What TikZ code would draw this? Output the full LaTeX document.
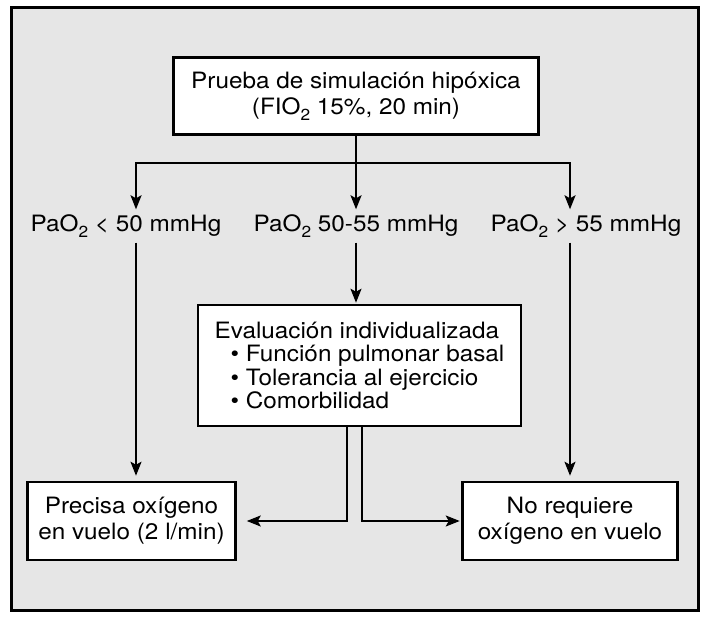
\documentclass[tikz,border=0pt]{standalone}
\usepackage{fontspec}
\setmainfont{TeX Gyre Heros}[FakeStretch=1.08]
\usetikzlibrary{arrows.meta}
\definecolor{bg}{HTML}{E6E6E6}
\newcommand\lowtwo{\raisebox{-0.28em}{\fontsize{16}{16}\selectfont 2}}
\begin{document}
\begin{tikzpicture}[x=1pt,y=-1pt,
  txt/.style={font=\fontsize{22.5}{26}\selectfont},
  box/.style={txt, draw, line width=2.5pt, fill=white, inner sep=0pt, align=center},
  lab/.style={txt, inner sep=0pt, minimum height=33pt},
  conn/.style={line width=2pt},
  arr/.style={conn, -{Stealth[length=14pt,width=11pt,inset=3pt]}}]
\useasboundingbox (0,0) rectangle (706,617);
\draw[line width=3pt, fill=bg] (11.5,8) rectangle (698.5,610);
\node[box, minimum width=365pt, minimum height=77pt] (top) at (356,96)
  {Prueba de simulación hipóxica\\(FIO\lowtwo{} 15\%, 20 min)};
\node[lab] (l1) at (126,226) {PaO\lowtwo{} < 50 mmHg};
\node[lab] (l2) at (356,226) {PaO\lowtwo{} 50-55 mmHg};
\node[lab] (l3) at (586,226) {PaO\lowtwo{} > 55 mmHg};
\node[box, align=left, minimum width=323pt, minimum height=121pt, font=\fontsize{22.5}{23.5}\selectfont] (mid) at (359.5,365.5)
  {Evaluación individualizada\\\hspace*{16pt}• Función pulmonar basal\\\hspace*{16pt}• Tolerancia al ejercicio\\\hspace*{16pt}• Comorbilidad};
\node[box, minimum width=208pt, minimum height=78pt] (left) at (131.5,521)
  {Precisa oxígeno\\en vuelo (2 l/min)};
\node[box, minimum width=215pt, minimum height=78pt] (right) at (570,521)
  {No requiere\\oxígeno en vuelo};
\coordinate (j) at (356,163);
\coordinate (cL) at (136,163);
\coordinate (cR) at (570,163);
\draw[arr] (top.south) -- (l2.north);
\draw[arr] (j) -| (cL |- l1.north);
\draw[arr] (j) -| (cR |- l3.north);
\draw[arr, shorten >=5pt] (cL |- l1.south) -- (cL |- left.north);
\draw[arr, shorten >=1pt] (l2.south) -- (l2.south |- mid.north);
\draw[arr, shorten >=5pt] (cR |- l3.south) -- (cR |- right.north);
\draw[arr, shorten >=10pt] (mid.south -| 347,0) |- (left.east);
\draw[arr, shorten >=1.5pt] (mid.south -| 362,0) |- (right.west);
\end{tikzpicture}
\end{document}
